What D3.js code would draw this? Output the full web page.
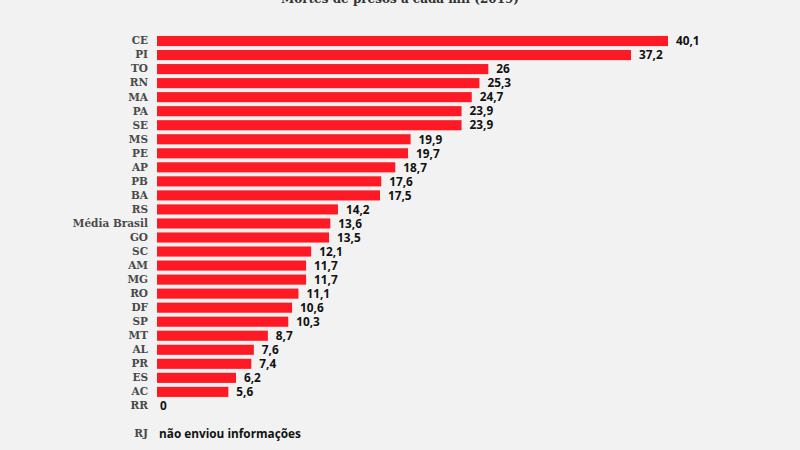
<!DOCTYPE html>
<html><head><meta charset="utf-8">
<script src="https://cdn.jsdelivr.net/npm/d3@7"></script>
<style>body{margin:0;background:#f2f2f2}svg{display:block}</style>
</head><body><svg id="c" width="800" height="450"></svg>
<script>
const title = "Mortes de presos a cada mil (2019)";
const categories = ["CE","PI","TO","RN","MA","PA","SE","MS","PE","AP","PB","BA","RS","Média Brasil","GO","SC","AM","MG","RO","DF","SP","MT","AL","PR","ES","AC","RR"];
const values = [40.1,37.2,26,25.3,24.7,23.9,23.9,19.9,19.7,18.7,17.6,17.5,14.2,13.6,13.5,12.1,11.7,11.7,11.1,10.6,10.3,8.7,7.6,7.4,6.2,5.6,0];
const noDataCat = "RJ";
const noDataText = "não enviou informações";

const svg = d3.select("#c");
svg.append("rect").attr("width",800).attr("height",450).attr("fill","#f2f2f2");

const domainRows = categories.concat(["_gap", noDataCat]);
const y = d3.scaleBand().domain(domainRows).range([34, 441]).paddingInner(0.28).paddingOuter(0.14);
const x = d3.scaleLinear().domain([0, 40.1]).range([157, 668]);

const labelFont = "'DejaVu Serif',serif";
const valueFont = "'Open Sans','DejaVu Sans',sans-serif";

svg.append("text").attr("x",400).attr("y",2.5).attr("text-anchor","middle")
  .attr("font-family",labelFont).attr("font-weight","bold").attr("font-size",12).attr("fill","#333")
  .text(title);

const rows = categories.map((c,i)=>({c, v: values[i]}));

svg.selectAll("rect.bar").data(rows).join("rect").attr("class","bar")
  .attr("x", x(0)).attr("y", d=>y(d.c))
  .attr("width", d=>x(d.v)-x(0)).attr("height", y.bandwidth())
  .attr("fill","#fe1a24");

const yAxis = d3.axisLeft(y).tickSize(0).tickPadding(9).tickFormat(d=> d==="_gap" ? "" : d);
const ga = svg.append("g").attr("transform",`translate(${x(0)},0)`).call(yAxis);
ga.select(".domain").remove();
ga.selectAll("text").attr("font-family",labelFont).attr("font-weight","bold").attr("font-size",10.5).attr("fill","#4a4a4a");

svg.selectAll("text.val").data(rows).join("text").attr("class","val")
  .attr("x", d=>x(d.v) + (d.v===0 ? 3 : 8)).attr("y", d=>y(d.c)+y.bandwidth()/2)
  .attr("dy","0.36em").attr("font-family",valueFont).attr("font-weight","bold").attr("font-size",11.8).attr("fill","#111")
  .text(d=>d3.format(",")(d.v).replace(".",","));

svg.append("text").attr("x", x(0)+2).attr("y", y(noDataCat)+y.bandwidth()/2).attr("dy","0.36em")
  .attr("font-family",valueFont).attr("font-weight","bold").attr("font-size",11.8).attr("fill","#111")
  .text(noDataText);
</script></body></html>
